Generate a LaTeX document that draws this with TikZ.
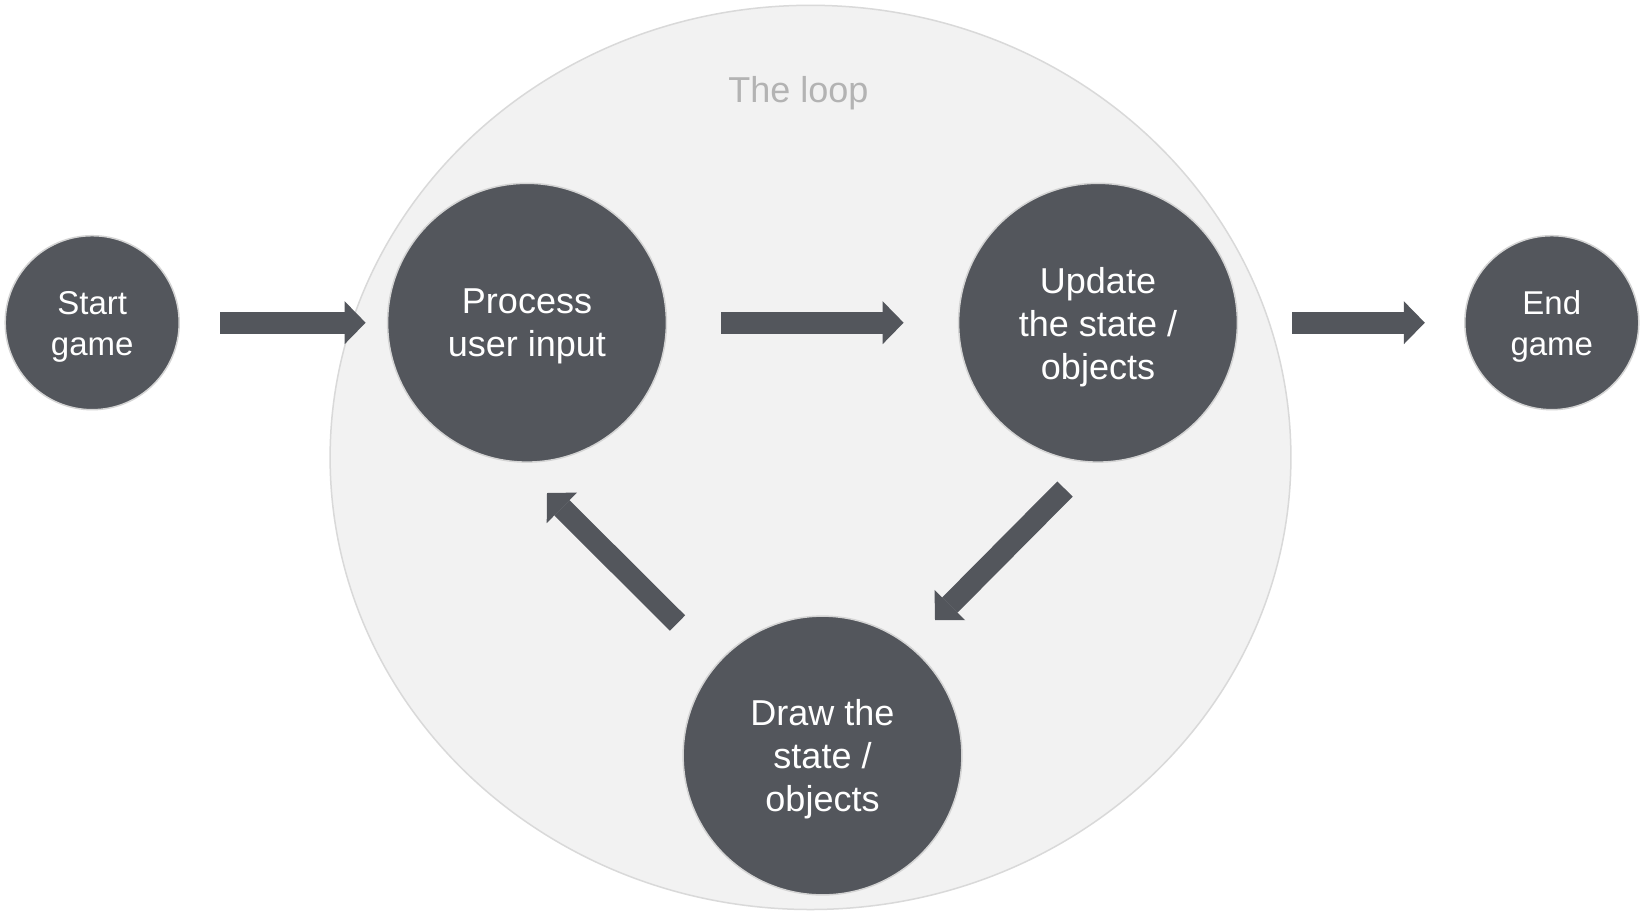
\documentclass[tikz,border=0pt]{standalone}
\usepackage{fontspec}
\setmainfont{Liberation Sans}
\usetikzlibrary{arrows.meta,calc,shapes.geometric}
\definecolor{darkc}{HTML}{53565C}
\definecolor{loopfill}{HTML}{F2F2F2}
\definecolor{loopline}{HTML}{D9D9D9}
\definecolor{looptext}{HTML}{B3B3B3}
\definecolor{rimc}{HTML}{D4D4D4}
\tikzset{
  stage/.style={circle, fill=darkc, draw=rimc, line width=1.5pt, inner sep=0pt, outer sep=0pt,
    minimum size=278.8pt},
  endpt/.style={stage, minimum size=174pt},
  stagetext/.style={text=white, align=center, yshift=-4pt, inner sep=0pt,
    font=\fontsize{36}{43}\selectfont},
  endtext/.style={stagetext, font=\fontsize{33}{41}\selectfont},
  blockarrow/.style={draw=darkc, line width=21.6pt, line cap=butt,
    -{Triangle[width=43pt,length=21pt,line width=0pt]}},
}
\begin{document}
\begin{tikzpicture}[x=1pt,y=-1pt]
\useasboundingbox (0,0) rectangle (1643,919);
\fill[white] (0,0) rectangle (1643,919);
\node[ellipse, draw=loopline, fill=loopfill, line width=1.5pt, inner sep=0pt, outer sep=0pt,
  minimum width=960.8pt, minimum height=904.2pt] (loop) at (810.5,457.4) {};
\node[text=looptext, font=\fontsize{36}{41.5}\selectfont] (looplabel) at (798.4,93) {The loop};
\node[endpt, label={[endtext]center:Start\\game}] (start) at (92.2,322.7) {};
\node[stage, label={[stagetext]center:Process\\user input}] (proc) at (527,322.7) {};
\node[stage, label={[stagetext]center:Update\\the state /\\objects}] (upd) at (1098,322.7) {};
\node[stage, label={[stagetext]center:Draw the\\state /\\objects}] (drw) at (822.5,755.5) {};
\node[endpt, label={[endtext]center:End\\game}] (end) at (1551.8,322.7) {};
\draw[blockarrow, shorten <=41pt, shorten >=22pt] (start) -- (proc);
\draw[blockarrow, shorten <=55pt, shorten >=55pt] (proc) -- (upd);
\draw[blockarrow, shorten <=55pt, shorten >=40pt] (upd) -- (end);
\draw[blockarrow] ($(upd.center)+(-33,166.3)$) -- ($(drw.center)+(112.5,-135.5)$);
\draw[blockarrow] ($(drw.center)+(-145,-132.5)$) -- ($(proc.center)+(20,170.3)$);
\end{tikzpicture}
\end{document}
